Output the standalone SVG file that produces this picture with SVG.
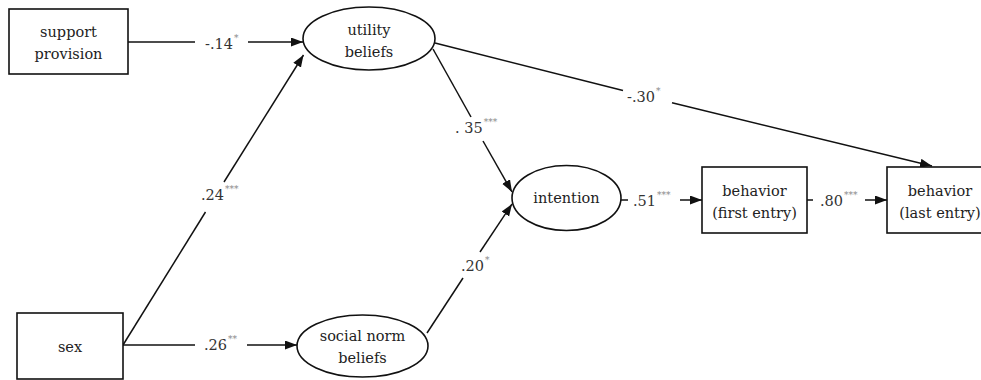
<svg xmlns="http://www.w3.org/2000/svg" width="981" height="380" viewBox="0 0 981 380">
<defs>
<style>
.node rect, .node ellipse { fill: #fff; stroke: #111; stroke-width: 1.6; }
.node text { font-family: 'DejaVu Serif', serif; font-size: 14.5px; fill: #222; text-anchor: middle; }
.edges line { stroke: #111; stroke-width: 1.5; fill: none; }
.lbl { font-family: 'DejaVu Serif', serif; font-size: 14.5px; fill: #333; }
.sig { font-size: 9px; fill: #888; }
</style>
<marker id="arr" markerUnits="userSpaceOnUse" markerWidth="13" markerHeight="10" refX="12" refY="4.5" orient="auto">
<path d="M0,0 L12,4.5 L0,9 z" fill="#111"/>
</marker>
</defs>
<rect width="981" height="380" fill="#fff"/>

<g id="edges" class="edges">
<line x1="128" y1="42" x2="195" y2="42"/>
<line x1="248" y1="42" x2="303" y2="42" marker-end="url(#arr)"/>
<line x1="123" y1="345" x2="205.5" y2="212"/>
<line x1="224" y1="182" x2="303.5" y2="55" marker-end="url(#arr)"/>
<line x1="123" y1="345" x2="195" y2="345"/>
<line x1="247" y1="345" x2="297" y2="345" marker-end="url(#arr)"/>
<line x1="433" y1="49" x2="471" y2="117"/>
<line x1="483" y1="141" x2="512" y2="192" marker-end="url(#arr)"/>
<line x1="427" y1="333" x2="463" y2="278"/>
<line x1="480" y1="252" x2="512" y2="204" marker-end="url(#arr)"/>
<line x1="435" y1="43" x2="623" y2="90.5"/>
<line x1="672" y1="102.8" x2="932" y2="166" marker-end="url(#arr)"/>
<line x1="621" y1="200" x2="628" y2="200"/>
<line x1="680" y1="200" x2="702" y2="200" marker-end="url(#arr)"/>
<line x1="807" y1="200" x2="813" y2="200"/>
<line x1="865" y1="200" x2="887" y2="200" marker-end="url(#arr)"/>
</g>

<g id="edge-labels">
<text class="lbl" x="205" y="49">-.14<tspan class="sig" dx="1" dy="-8">*</tspan></text>
<text class="lbl" x="201" y="200">.24<tspan class="sig" dx="1" dy="-8">***</tspan></text>
<text class="lbl" x="204" y="350">.26<tspan class="sig" dx="1" dy="-8">**</tspan></text>
<text class="lbl" x="455" y="133">. 35<tspan class="sig" dx="1" dy="-8">***</tspan></text>
<text class="lbl" x="461" y="271">.20<tspan class="sig" dx="1" dy="-8">*</tspan></text>
<text class="lbl" x="627" y="102">-.30<tspan class="sig" dx="1" dy="-8">*</tspan></text>
<text class="lbl" x="633" y="206">.51<tspan class="sig" dx="1" dy="-8">***</tspan></text>
<text class="lbl" x="820" y="206">.80<tspan class="sig" dx="1" dy="-8">***</tspan></text>
</g>

<g id="support-provision" class="node">
<rect x="9" y="9" width="119" height="65"/>
<text x="68.5" y="37">support</text>
<text x="68.5" y="59">provision</text>
</g>

<g id="utility-beliefs" class="node">
<ellipse cx="369" cy="38.5" rx="66" ry="31.5"/>
<text x="369" y="35">utility</text>
<text x="369" y="57">beliefs</text>
</g>

<g id="sex" class="node">
<rect x="17" y="313" width="106" height="66"/>
<text x="70" y="352">sex</text>
</g>

<g id="social-norm-beliefs" class="node">
<ellipse cx="362.5" cy="346" rx="65.5" ry="31"/>
<text x="362.5" y="341">social norm</text>
<text x="362.5" y="363">beliefs</text>
</g>

<g id="intention" class="node">
<ellipse cx="566.5" cy="198" rx="54.5" ry="32.5"/>
<text x="566.5" y="203">intention</text>
</g>

<g id="behavior-first" class="node">
<rect x="702" y="167" width="105" height="66"/>
<text x="754.5" y="196">behavior</text>
<text x="754.5" y="218">(first entry)</text>
</g>

<g id="behavior-last" class="node">
<rect x="887" y="167" width="110" height="66"/>
<text x="940" y="196">behavior</text>
<text x="940" y="218">(last entry)</text>
</g>
</svg>
